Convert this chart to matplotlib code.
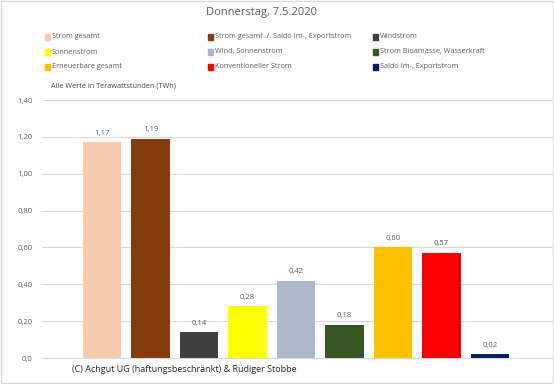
import matplotlib.pyplot as plt
from matplotlib.patches import Rectangle

plt.rcParams['font.family'] = ['Open Sans', 'DejaVu Sans']

# Data
categories = [
    "Strom gesamt",
    "Strom gesamt ./. Saldo Im-, Exportstrom",
    "Windstrom",
    "Sonnenstrom",
    "Wind, Sonnenstrom",
    "Strom Bioamasse, Wasserkraft",
    "Erneuerbare gesamt",
    "Konventioneller Strom",
    "Saldo Im-, Exportstrom",
]
values = [1.17, 1.19, 0.14, 0.28, 0.42, 0.18, 0.60, 0.57, 0.02]
colors = ["#F8CBAD", "#843C0C", "#404040", "#FFFF00", "#ADB9CA",
          "#375623", "#FFC000", "#FF0000", "#002060"]
yticks = [0.0, 0.2, 0.4, 0.6, 0.8, 1.0, 1.2, 1.4]
ytick_labels = ["0,0", "0,20", "0,40", "0,60", "0,80", "1,00", "1,20", "1,40"]

W, H = 554, 384
fig = plt.figure(figsize=(W / 100, H / 100), dpi=100)
ax = fig.add_axes([42 / W, 1 - 358 / H, 511 / W, 258 / H])

x = list(range(len(values)))
bars = ax.bar(x, values, width=0.79, color=colors, zorder=3)

for xi, v in zip(x, values):
    ax.annotate(f"{v:.2f}".replace(".", ","), (xi, v), xytext=(0, 4),
                textcoords="offset points", ha="center", va="bottom",
                fontsize=5.5, color="#595959")

ax.set_xlim(-1.24, 9.3)
ax.set_ylim(0, 1.4)
ax.set_yticks(yticks)
ax.set_yticklabels(ytick_labels, fontsize=5.5, color="#595959")
ax.set_xticks([])
ax.tick_params(axis="y", length=0, pad=7)
ax.grid(axis="y", color="#D9D9D9", linewidth=0.8, zorder=0)
for s in ["top", "right", "left"]:
    ax.spines[s].set_visible(False)
ax.spines["bottom"].set_color("#D9D9D9")
ax.spines["bottom"].set_linewidth(0.8)

# Title
fig.text(262 / W, 1 - 13 / H, "Donnerstag, 7.5.2020", ha="center", va="center",
         fontsize=8, color="#595959")

# Legend (row-major, 3 columns)
col_x = [45, 208, 373]
row_y = [37, 52, 67]
for i, (name, c) in enumerate(zip(categories, colors)):
    cx = col_x[i % 3]
    cy = row_y[i // 3]
    fig.patches.append(Rectangle((cx / W, 1 - (cy + 2.5) / H), 5 / W, 5 / H,
                                 transform=fig.transFigure, color=c))
    fig.text((cx + 7) / W, 1 - cy / H, name, ha="left", va="center",
             fontsize=5.2, color="#595959")

fig.text(51 / W, 1 - 86 / H, "Alle Werte in Terawattstunden (TWh)",
         ha="left", va="center", fontsize=5.2, color="#404040")

fig.text(72 / W, 1 - 369 / H, "(C) Achgut UG (haftungsbeschränkt) & Rüdiger Stobbe",
         ha="left", va="center", fontsize=6.5, color="#262626")

# Chart border
fig.patches.append(Rectangle((0.5 / W, 1.5 / H), (W - 1.5) / W, (H - 2) / H,
                             transform=fig.transFigure, fill=False,
                             edgecolor="#D9D9D9", linewidth=1))

fig.savefig("out.png", dpi=100)
